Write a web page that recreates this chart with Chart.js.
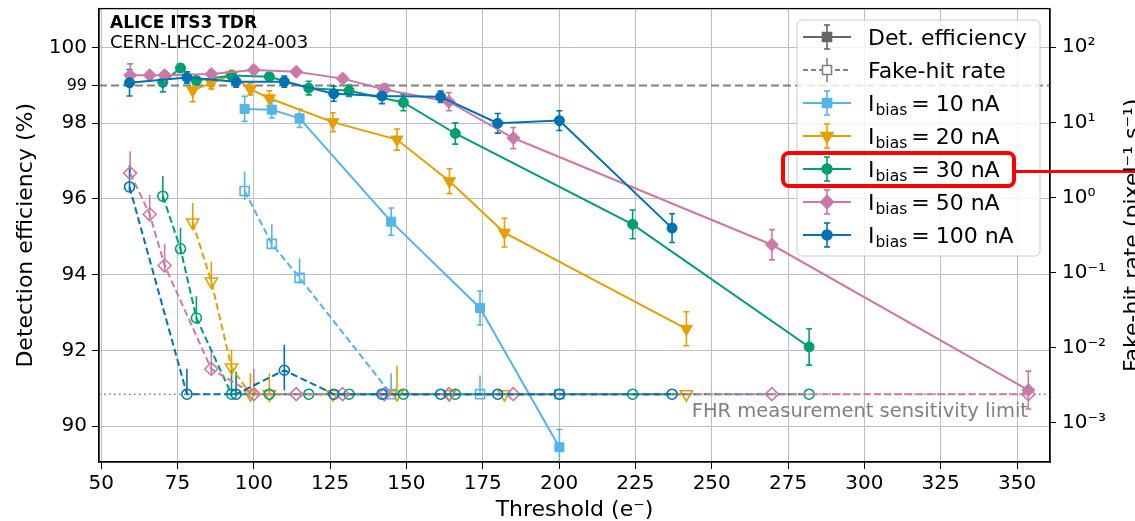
<!DOCTYPE html>
<html>
<head>
<meta charset="utf-8">
<script src="https://cdn.jsdelivr.net/npm/chart.js@4/dist/chart.umd.min.js"></script>
<style>
  html, body { margin: 0; padding: 0; background: #fff; overflow: hidden; }
  #wrap { width: 1135px; height: 521px; position: relative; }
</style>
</head>
<body>
<div id="wrap"><canvas id="chart-its3"></canvas></div>
<script>
const FONT = "'DejaVu Sans', 'Liberation Sans', sans-serif";

// axis ticks
const thrTicks = [50, 75, 100, 125, 150, 175, 200, 225, 250, 275, 300, 325, 350];
const effTicks = [90, 92, 94, 96, 98, 99, 100];
const fhrTicks = [1e-3, 1e-2, 1e-1, 1e0, 1e1, 1e2];
const fhrTickLabels = ['10⁻³', '10⁻²', '10⁻¹', '10⁰', '10¹', '10²'];
const effRef = 99;          // dashed reference line (%)
const fhrLimit = 0.0024;    // FHR measurement sensitivity limit

// I_bias = 10 nA
const thr10 = [97.0, 105.9, 115.0, 145.0, 174.1, 200.1];
const eff10 = [98.38, 98.36, 98.13, 95.40, 93.12, 89.44];
const effErr10 = [0.33, 0.22, 0.24, 0.36, 0.45, 0.47];
const fhr10 = [1.22, 0.241, 0.085, 0.0024, 0.0024, 0.0024];
const fhrUp10 = [0.26, 0.26, 0.26, 0.28, 0.25, 0];
const fhrDn10 = [0.12, 0.07, 0.08, 0, 0, 0];

// I_bias = 20 nA
const thr20 = [80.0, 86.1, 92.7, 98.9, 105.1, 125.9, 146.9, 164.1, 182.1, 241.7];
const eff20 = [98.87, 99.06, 99.28, 98.90, 98.66, 98.03, 97.57, 96.47, 95.11, 92.57];
const effErr20 = [0.30, 0.15, 0.12, 0.15, 0.20, 0.25, 0.28, 0.33, 0.38, 0.45];
const fhr20 = [0.463, 0.0759, 0.00545, 0.0024, 0.0024, 0.0024, 0.0024, 0.0024, 0.0024, 0.0024];
const fhrUp20 = [0.26, 0.26, 0.24, 0.28, 0.28, 0, 0.38, 0, 0, 0];
const fhrDn20 = [0.10, 0.07, 0.09, 0, 0, 0, 0, 0, 0, 0];

// I_bias = 30 nA
const thr30 = [70.2, 76.0, 81.2, 92.7, 105.1, 118.0, 131.2, 149.0, 166.0, 224.1, 281.9];
const eff30 = [99.08, 99.46, 99.13, 99.26, 99.23, 98.93, 98.86, 98.55, 97.73, 95.33, 92.09];
const effErr30 = [0.25, 0.10, 0.10, 0.10, 0.10, 0.18, 0.15, 0.22, 0.28, 0.38, 0.48];
const fhr30 = [1.04, 0.207, 0.0248, 0.0024, 0.0024, 0.0024, 0.0024, 0.0024, 0.0024, 0.0024, 0.0024];
const fhrUp30 = [0.27, 0.28, 0.29, 0.32, 0, 0, 0, 0, 0, 0, 0];
const fhrDn30 = [0.08, 0.07, 0.07, 0, 0, 0, 0, 0, 0, 0, 0];

// I_bias = 50 nA
const thr50 = [59.5, 65.9, 70.8, 86.1, 100.0, 113.9, 129.1, 142.8, 163.9, 185.0, 269.7, 353.7];
const eff50 = [99.27, 99.27, 99.27, 99.30, 99.41, 99.36, 99.18, 98.89, 98.57, 97.61, 94.79, 90.95];
const effErr50 = [0.30, 0.10, 0.10, 0.10, 0.10, 0.10, 0.10, 0.15, 0.24, 0.28, 0.40, 0.50];
const fhr50 = [2.11, 0.597, 0.124, 0.0052, 0.0024, 0.0024, 0.0024, 0.0024, 0.0024, 0.0024, 0.0024, 0.0024];
const fhrUp50 = [0.29, 0.26, 0.29, 0.26, 0.34, 0, 0, 0, 0, 0, 0, 0];
const fhrDn50 = [0.04, 0.09, 0.07, 0.07, 0, 0, 0, 0, 0, 0, 0, 0];

// I_bias = 100 nA
const thr100 = [59.3, 78.1, 94.2, 110.0, 126.2, 142.0, 161.2, 179.9, 200.1, 237.0];
const eff100 = [99.07, 99.21, 99.10, 99.10, 98.78, 98.72, 98.70, 98.00, 98.07, 95.23];
const effErr100 = [0.35, 0.15, 0.15, 0.15, 0.20, 0.20, 0.15, 0.26, 0.26, 0.38];
const fhr100 = [1.38, 0.0024, 0.0024, 0.0050, 0.0024, 0.0024, 0.0024, 0.0024, 0.0024, 0.0024];
const fhrUp100 = [0.29, 0.34, 0.30, 0.34, 0, 0, 0, 0, 0, 0];
const fhrDn100 = [0.06, 0, 0, 0.27, 0, 0, 0, 0, 0, 0];

const series = [
  { label: '10 nA',  color: '#56B4E9', marker: 'rect',     rot: 0,   r: 6.4, thr: thr10,  eff: eff10,  err: effErr10,  fhr: fhr10,  up: fhrUp10,  dn: fhrDn10 },
  { label: '20 nA',  color: '#E69F00', marker: 'triangle', rot: 180, r: 7,   thr: thr20,  eff: eff20,  err: effErr20,  fhr: fhr20,  up: fhrUp20,  dn: fhrDn20 },
  { label: '30 nA',  color: '#009E73', marker: 'circle',   rot: 0,   r: 5,   thr: thr30,  eff: eff30,  err: effErr30,  fhr: fhr30,  up: fhrUp30,  dn: fhrDn30 },
  { label: '50 nA',  color: '#CC79A7', marker: 'rectRot',  rot: 0,   r: 6.5, thr: thr50,  eff: eff50,  err: effErr50,  fhr: fhr50,  up: fhrUp50,  dn: fhrDn50 },
  { label: '100 nA', color: '#0072B2', marker: 'circle',   rot: 0,   r: 5,   thr: thr100, eff: eff100, err: effErr100, fhr: fhr100, up: fhrUp100, dn: fhrDn100 },
];

// left axis range; right (log) axis is tied to it: 96 % <-> 1, 2 % per decade
const effMin = 89.05, effMax = 101.03;
const toFhr = e => Math.pow(10, (e - 96) / 2);

const datasets = [];
series.forEach((s, i) => {
  datasets.push({
    label: s.label, kind: 'eff', yAxisID: 'y', order: 50 - i,
    data: s.thr.map((x, j) => ({ x, y: s.eff[j] })), err: s.err,
    showLine: true, borderColor: s.color, backgroundColor: s.color, borderWidth: 2,
    pointStyle: s.marker, pointRotation: s.rot, pointRadius: s.r,
    pointBackgroundColor: s.color, pointBorderColor: s.color, pointBorderWidth: 1,
  });
});
series.forEach((s, i) => {
  datasets.push({
    label: s.label + ' FHR', kind: 'fhr', yAxisID: 'y1', order: 20 - i,
    data: s.thr.map((x, j) => ({ x, y: s.fhr[j] })), up: s.up, dn: s.dn,
    showLine: true, borderColor: s.color, backgroundColor: 'rgba(0,0,0,0)', borderWidth: 2, borderDash: [7, 3.5],
    pointStyle: s.marker, pointRotation: s.rot, pointRadius: s.r,
    pointBackgroundColor: 'rgba(0,0,0,0)', pointBorderColor: s.color, pointBorderWidth: 1.6,
  });
});

function seg(ctx, x0, y0, x1, y1) {
  ctx.beginPath(); ctx.moveTo(x0, y0); ctx.lineTo(x1, y1); ctx.stroke();
}

function markerPath(ctx, style, x, y, r, rot) {
  ctx.beginPath();
  if (style === 'circle') {
    ctx.arc(x, y, r, 0, Math.PI * 2);
  } else if (style === 'rect') {
    const h = r * Math.SQRT1_2;
    ctx.rect(x - h, y - h, 2 * h, 2 * h);
  } else if (style === 'rectRot') {
    ctx.moveTo(x - r, y); ctx.lineTo(x, y - r); ctx.lineTo(x + r, y); ctx.lineTo(x, y + r); ctx.closePath();
  } else {
    let a = rot * Math.PI / 180;
    for (let k = 0; k < 3; k++) {
      const px = x + Math.sin(a) * r, py = y - Math.cos(a) * r;
      k ? ctx.lineTo(px, py) : ctx.moveTo(px, py);
      a += Math.PI * 2 / 3;
    }
    ctx.closePath();
  }
}

const legendRows = [
  { text: 'Det. efficiency', color: '#666666', marker: 'rect', rot: 0, r: 6.4, filled: true, dash: [] },
  { text: 'Fake-hit rate', color: '#808080', marker: 'rect', rot: 0, r: 6.4, filled: false, dash: [5, 3] },
  ...series.map(s => ({ bias: s.label, color: s.color, marker: s.marker, rot: s.rot, r: s.r, filled: true, dash: [] })),
];

const overlay = {
  id: 'its3Overlay',
  beforeDatasetsDraw(chart) {
    const { ctx, chartArea: a, scales } = chart;
    ctx.save();
    ctx.beginPath(); ctx.rect(a.left, a.top, a.right - a.left, a.bottom - a.top); ctx.clip();
    // reference lines
    ctx.strokeStyle = '#808080';
    ctx.lineWidth = 2; ctx.setLineDash([8, 4]);
    const y99 = scales.y.getPixelForValue(effRef);
    seg(ctx, a.left, y99, a.right, y99);
    ctx.lineWidth = 1.6; ctx.setLineDash([1.6, 3.4]);
    const yLim = scales.y1.getPixelForValue(fhrLimit);
    seg(ctx, a.left, yLim, a.right, yLim);
    ctx.setLineDash([]);
    // error bars
    chart.data.datasets.forEach((ds, i) => {
      const meta = chart.getDatasetMeta(i);
      const ys = scales[ds.yAxisID];
      ctx.strokeStyle = ds.borderColor; ctx.lineWidth = 1.6;
      meta.data.forEach((pt, j) => {
        const v = ds.data[j].y;
        let lo, hi;
        if (ds.kind === 'eff') { lo = v - ds.err[j]; hi = v + ds.err[j]; }
        else {
          if (!ds.up[j] && !ds.dn[j]) return;
          lo = v / Math.pow(10, ds.dn[j]); hi = v * Math.pow(10, ds.up[j]);
        }
        const p0 = ys.getPixelForValue(lo), p1 = ys.getPixelForValue(hi);
        seg(ctx, pt.x, p0, pt.x, p1);
        if (ds.kind === 'eff') {
          seg(ctx, pt.x - 3, p0, pt.x + 3, p0);
          seg(ctx, pt.x - 3, p1, pt.x + 3, p1);
        }
      });
    });
    ctx.restore();
  },
  afterDatasetsDraw(chart) {
    const { ctx, chartArea: a } = chart;
    ctx.save();
    // frame
    ctx.strokeStyle = '#000'; ctx.lineWidth = 1.3;
    ctx.strokeRect(a.left, a.top, a.right - a.left, a.bottom - a.top);

    // labels inside the axes
    ctx.fillStyle = '#000'; ctx.textAlign = 'left'; ctx.textBaseline = 'alphabetic';
    ctx.font = `bold 17px ${FONT}`;
    ctx.fillText('ALICE ITS3 TDR', 110, 28);
    ctx.font = `18px ${FONT}`;
    ctx.fillText('CERN-LHCC-2024-003', 110, 48);
    ctx.fillStyle = '#808080'; ctx.textAlign = 'right'; ctx.font = `19.5px ${FONT}`;
    ctx.fillText('FHR measurement sensitivity limit', 1028, 417);

    // legend
    const lx = 797, ly = 20, lw = 243, lh = 236;
    ctx.beginPath(); ctx.roundRect(lx, ly, lw, lh, 5);
    ctx.fillStyle = 'rgba(255,255,255,0.8)'; ctx.fill();
    ctx.strokeStyle = '#cccccc'; ctx.lineWidth = 1; ctx.stroke();
    legendRows.forEach((row, i) => {
      const cy = 37 + i * 33, hx = 827;
      ctx.strokeStyle = row.color; ctx.fillStyle = row.color;
      ctx.lineWidth = 2; ctx.setLineDash(row.dash);
      seg(ctx, 803, cy, 851, cy);
      ctx.setLineDash([]); ctx.lineWidth = 1.6;
      seg(ctx, hx, cy - 12, hx, cy + 12);
      if (row.filled) { seg(ctx, hx - 3, cy - 12, hx + 3, cy - 12); seg(ctx, hx - 3, cy + 12, hx + 3, cy + 12); }
      markerPath(ctx, row.marker, hx, cy, row.r, row.rot);
      if (row.filled) ctx.fill(); else { ctx.fillStyle = '#fff'; ctx.fill(); }
      ctx.stroke();
      ctx.fillStyle = '#000'; ctx.textAlign = 'left';
      const base = cy + 8;
      let tx = 868;
      ctx.font = `22px ${FONT}`;
      if (row.text) { ctx.fillText(row.text, tx, base); return; }
      ctx.fillText('I', tx, base); tx += ctx.measureText('I').width + 1;
      ctx.font = `15.5px ${FONT}`;
      ctx.fillText('bias', tx, base + 4); tx += ctx.measureText('bias').width + 4;
      ctx.font = `22px ${FONT}`;
      ctx.fillText('=', tx, base); tx += ctx.measureText('=').width + 6;
      ctx.fillText(row.bias, tx, base);
    });

    // highlight on the 30 nA entry
    ctx.strokeStyle = '#ff0000'; ctx.lineWidth = 4;
    ctx.beginPath(); ctx.roundRect(783, 153, 231, 33, 6); ctx.stroke();
    ctx.lineWidth = 3;
    seg(ctx, 1014, 171.5, 1135, 171.5);

    // right axis title (reads bottom to top, runs off the canvas edge)
    ctx.save();
    ctx.translate(1139, (a.top + a.bottom) / 2);
    ctx.rotate(-Math.PI / 2);
    ctx.fillStyle = '#000'; ctx.textAlign = 'center'; ctx.textBaseline = 'alphabetic';
    ctx.font = `22px ${FONT}`;
    ctx.fillText('Fake-hit rate (pixel⁻¹ s⁻¹)', 0, 0);
    ctx.restore();
    ctx.restore();
  }
};

const gridColor = '#bfbfbf';
const tickFont = { family: FONT, size: 20 };
// keep the plot box fixed: no extra room reserved for half tick labels
const noPad = s => { s.paddingTop = 0; s.paddingBottom = 0; s.paddingLeft = 0; s.paddingRight = 0; };

new Chart(document.getElementById('chart-its3'), {
  type: 'scatter',
  data: { datasets },
  plugins: [overlay],
  options: {
    responsive: true,
    maintainAspectRatio: false,
    animation: false,
    devicePixelRatio: 1,
    layout: { padding: { top: 7, right: 0, bottom: 0, left: 0 } },
    plugins: { legend: { display: false }, tooltip: { enabled: false } },
    scales: {
      x: {
        type: 'linear', min: 49.3, max: 360.8,
        afterBuildTicks: s => { s.ticks = thrTicks.map(v => ({ value: v })); },
        afterFit: s => { s.height = 59; noPad(s); },
        ticks: { font: tickFont, color: '#000', padding: 3, autoSkip: false, maxRotation: 0, callback: v => String(v) },
        grid: { color: gridColor, lineWidth: 1, tickColor: '#000', tickLength: 7 },
        border: { display: true, color: '#000', width: 1.3 },
        title: { display: true, text: 'Threshold (e⁻)', color: '#000', font: { family: FONT, size: 22 }, padding: { top: 0, bottom: -2 } },
      },
      y: {
        type: 'linear', position: 'left', min: effMin, max: effMax,
        afterBuildTicks: s => { s.ticks = effTicks.map(v => ({ value: v })); },
        afterFit: s => { s.width = 99; noPad(s); },
        ticks: {
          color: '#000', padding: 5, autoSkip: false, callback: v => String(v),
          font: c => ({ family: FONT, size: c.tick && c.tick.value === effRef ? 16 : 20 }),
        },
        grid: {
          color: c => (c.tick && c.tick.value === effRef ? 'rgba(0,0,0,0)' : gridColor),
          lineWidth: 1, tickColor: '#000', tickLength: 7,
        },
        border: { display: true, color: '#000', width: 1.3 },
        title: { display: true, text: 'Detection efficiency (%)', color: '#000', font: { family: FONT, size: 22 }, padding: { top: 13, bottom: 0 } },
      },
      y1: {
        type: 'logarithmic', position: 'right', min: toFhr(effMin), max: toFhr(effMax),
        afterBuildTicks: s => { s.ticks = fhrTicks.map(v => ({ value: v, major: true })); },
        afterFit: s => { s.width = 85; noPad(s); },
        ticks: { font: tickFont, color: '#000', padding: 6, autoSkip: false, callback: (v, i) => fhrTickLabels[i] },
        grid: { drawOnChartArea: false, tickColor: '#000', tickLength: 6 },
        border: { display: true, color: '#000', width: 1.3 },
      },
    },
  },
});
</script>
</body>
</html>
